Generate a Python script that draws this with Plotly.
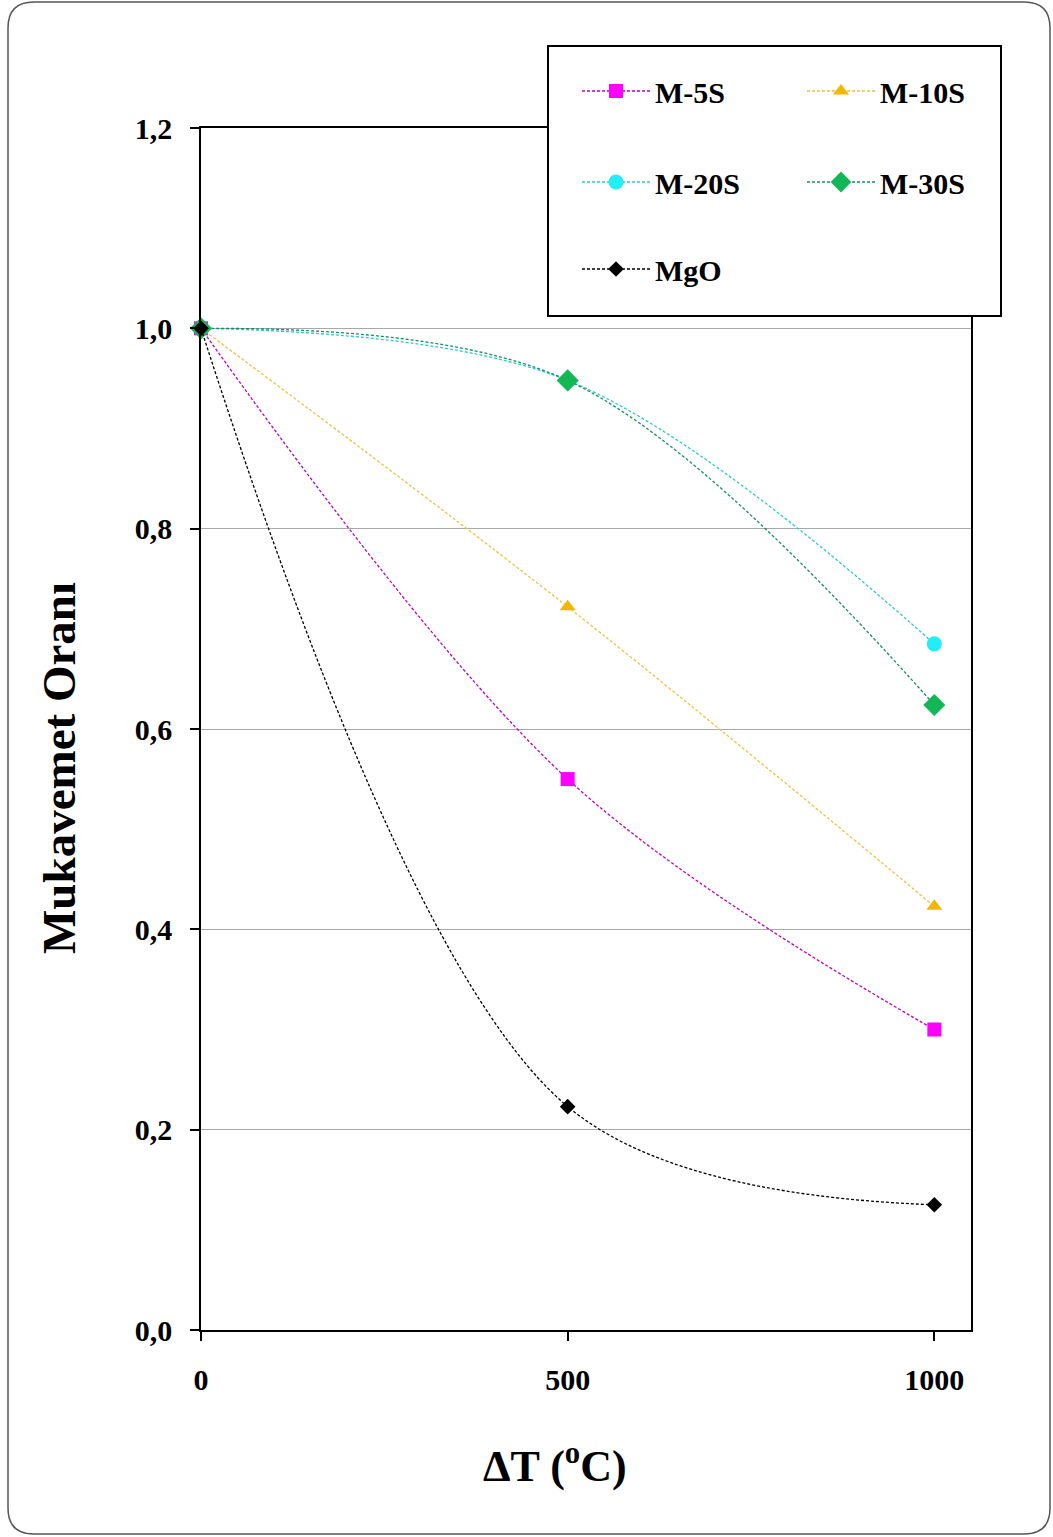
import plotly.graph_objects as go

# Thermal shock: retained strength ratio vs temperature difference
delta_t = [0, 500, 1000]
m5s = [1.0, 0.55, 0.30]
m10s = [1.0, 0.722, 0.423]
m20s = [1.0, 0.948, 0.685]
m30s = [1.0, 0.948, 0.624]
mgo = [1.0, 0.223, 0.125]

series_names = ["M-5S", "M-10S", "M-20S", "M-30S", "MgO"]
y_tick_vals = [0.0, 0.2, 0.4, 0.6, 0.8, 1.0, 1.2]
y_tick_text = ["0,0", "0,2", "0,4", "0,6", "0,8", "1,0", "1,2"]
x_tick_vals = [0, 500, 1000]
x_tick_text = ["0", "500", "1000"]

W, H = 1053, 1537
L, R, T, B = 201, 82, 128, 207
PW, PH = W - L - R, H - T - B
FONT = "Liberation Serif, Times New Roman, serif"


def px(x):
    return (x - L) / PW


def py(y):
    return 1 - (y - T) / PH


def cx(x):
    return x / W


def cy(y):
    return 1 - y / H


styles = [
    dict(color="#FF00FF", line="#C000C0", symbol="square", size=14),
    dict(color="#F2B705", line="#F2C040", symbol="triangle-up", size=14),
    dict(color="#22EEF5", line="#30C8D0", symbol="circle", size=15),
    dict(color="#12B855", line="#169060", symbol="diamond", size=17),
    dict(color="#000000", line="#000000", symbol="diamond", size=12),
]
legend_ids = ["legend", "legend", "legend2", "legend2", "legend3"]

fig = go.Figure()
for name, ys, st, lg in zip(series_names, [m5s, m10s, m20s, m30s, mgo], styles, legend_ids):
    fig.add_trace(go.Scatter(
        x=delta_t, y=ys, name=name, mode="lines+markers",
        line=dict(color=st["line"], width=1.3, dash="3px,2px", shape="spline", smoothing=1),
        marker=dict(color=st["color"], symbol=st["symbol"], size=st["size"], line=dict(width=0)),
        cliponaxis=False, legend=lg,
    ))

legend_common = dict(
    orientation="h", xanchor="left", yanchor="middle",
    xref="container", yref="container",
    entrywidth=142, entrywidthmode="pixels", itemwidth=68,
    font=dict(family=FONT, size=30, color="black", weight="bold"),
    bgcolor="rgba(0,0,0,0)", borderwidth=0,
)

axis_font = dict(family=FONT, size=30, color="black", weight="bold")

fig.update_layout(
    width=W, height=H,
    margin=dict(l=L, r=R, t=T, b=B, autoexpand=False),
    paper_bgcolor="white", plot_bgcolor="white",
    showlegend=True,
    legend=dict(x=cx(577), y=cy(91), **legend_common),
    legend2=dict(x=cx(577), y=cy(182), **legend_common),
    legend3=dict(x=cx(577), y=cy(269), **legend_common),
    xaxis=dict(
        range=[0, 1050], tickvals=x_tick_vals, ticktext=x_tick_text,
        ticks="outside", ticklen=9, tickwidth=1.5, tickcolor="black",
        showline=True, linecolor="black", linewidth=1.5, mirror=True,
        showgrid=False, zeroline=False, tickfont=axis_font, ticklabelstandoff=13,
    ),
    yaxis=dict(
        range=[0, 1.2], tickvals=y_tick_vals, ticktext=y_tick_text,
        ticks="outside", ticklen=9, tickwidth=1.5, tickcolor="black",
        showline=True, linecolor="black", linewidth=1.5, mirror=True,
        showgrid=True, gridcolor="#A8A8A8", gridwidth=1, zeroline=False,
        tickfont=axis_font, ticklabelstandoff=12,
    ),
    annotations=[
        dict(text="Mukavemet Oranı", textangle=-90, x=px(59), y=py(768),
             xref="paper", yref="paper", xanchor="center", yanchor="middle",
             showarrow=False, font=dict(family=FONT, size=47, color="black", weight="bold")),
        dict(text="ΔT (<sup>o</sup>C)", x=px(555), y=py(1464),
             xref="paper", yref="paper", xanchor="center", yanchor="middle",
             showarrow=False, font=dict(family=FONT, size=44, color="black", weight="bold")),
    ],
)

# Legend frame
fig.add_shape(type="rect", xref="paper", yref="paper",
              x0=px(548), x1=px(1001), y0=py(316), y1=py(46),
              line=dict(color="black", width=2), fillcolor="white", layer="above")

# Rounded outer frame around the whole chart
x0, x1, y0, y1, r = 8, 1050, 2, 1534, 26
path = (
    f"M{px(x0 + r)},{py(y0)} L{px(x1 - r)},{py(y0)} Q{px(x1)},{py(y0)} {px(x1)},{py(y0 + r)} "
    f"L{px(x1)},{py(y1 - r)} Q{px(x1)},{py(y1)} {px(x1 - r)},{py(y1)} "
    f"L{px(x0 + r)},{py(y1)} Q{px(x0)},{py(y1)} {px(x0)},{py(y1 - r)} "
    f"L{px(x0)},{py(y0 + r)} Q{px(x0)},{py(y0)} {px(x0 + r)},{py(y0)} Z"
)
fig.add_shape(type="path", path=path, xref="paper", yref="paper",
              line=dict(color="#555555", width=1.5), layer="below")

fig.write_html("out.html")
